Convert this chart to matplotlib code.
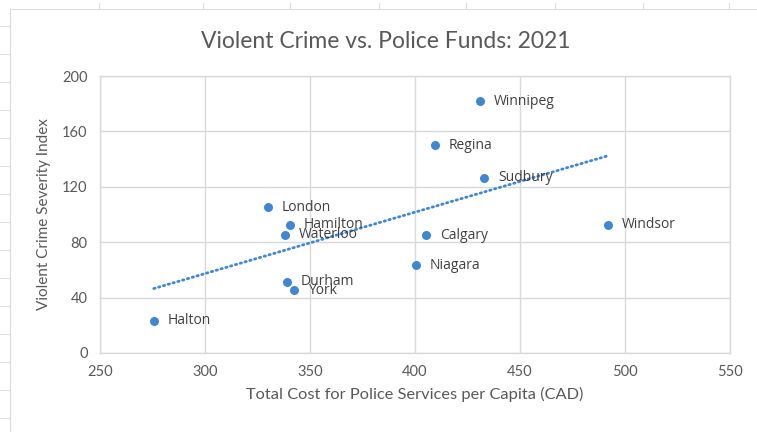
import numpy as np
import matplotlib
matplotlib.use("Agg")
import matplotlib.pyplot as plt
from matplotlib.lines import Line2D

cities = ['Halton', 'London', 'Hamilton', 'Waterloo', 'Durham', 'York', 'Calgary',
          'Niagara', 'Regina', 'Winnipeg', 'Sudbury', 'Windsor']
cost = [275.6, 330.0, 340.3, 337.9, 339.1, 342.3, 405.3, 400.5, 409.3, 430.8, 432.8, 491.9]
crime = [23.3, 105.4, 92.7, 85.5, 51.4, 45.4, 85.0, 63.4, 150.0, 181.6, 126.6, 92.7]

x_ticks = [250, 300, 350, 400, 450, 500, 550]
y_ticks = [0, 40, 80, 120, 160, 200]

blue = '#3f87d5'
grid_c = '#d9d9d9'
text_c = '#595959'

fig = plt.figure(figsize=(7.57, 4.32), dpi=100)
W, H = 757, 432

# spreadsheet cells behind the chart
for yy in range(26, 432, 28):
    fig.add_artist(Line2D([0, 10 / W], [1 - yy / H] * 2, color='#e3e3e3', lw=0.8))
fig.add_artist(Line2D([10 / W, 10 / W], [0, 1 - 9 / H], color='#dcdcdc', lw=0.8))
fig.add_artist(Line2D([10 / W, 1], [1 - 9 / H] * 2, color='#dcdcdc', lw=0.8))
for xx in [99, 203, 290, 379, 466, 555, 643, 729]:
    fig.add_artist(Line2D([xx / W] * 2, [1 - 3 / H, 1 - 9 / H], color='#dcdcdc', lw=0.8))

ax = fig.add_axes([100 / W, 1 - 353 / H, 630 / W, 277 / H])
ax.scatter(cost, crime, s=42, color=blue, zorder=3, linewidths=0)

# linear trendline
k, b = np.polyfit(cost, crime, 1)
tx = np.array([min(cost), max(cost)])
ax.plot(tx, k * tx + b, color=blue, lw=2, linestyle=(0, (0.5, 1.3)),
        dash_capstyle='round', zorder=2)

for name, xv, yv in zip(cities, cost, crime):
    ax.annotate(name, (xv, yv), xytext=(10, 0), textcoords='offset points',
                va='center', ha='left', fontsize=10, color='#404040',
                family='Open Sans', zorder=4)

ax.set_xlim(250, 550)
ax.set_ylim(0, 200)
ax.set_xticks(x_ticks)
ax.set_yticks(y_ticks)
ax.grid(True, color=grid_c, lw=1)
ax.set_axisbelow(True)
for s in ax.spines.values():
    s.set_color(grid_c)
    s.set_linewidth(1)
ax.tick_params(length=0, labelsize=10.5, labelcolor=text_c, pad=9)
for lab in ax.get_xticklabels() + ax.get_yticklabels():
    lab.set_family('Lato')

ax.set_xlabel('Total Cost for Police Services per Capita (CAD)', fontsize=11.8,
              color=text_c, family='Lato', labelpad=5)
ax.set_ylabel('Violent Crime Severity Index', fontsize=11, color=text_c,
              family='Lato', labelpad=8)
fig.text(386 / W, 1 - 42 / H, 'Violent Crime vs. Police Funds: 2021', fontsize=16.5,
         color=text_c, family='Lato', ha='center', va='center')

fig.savefig('out.png', dpi=100)
